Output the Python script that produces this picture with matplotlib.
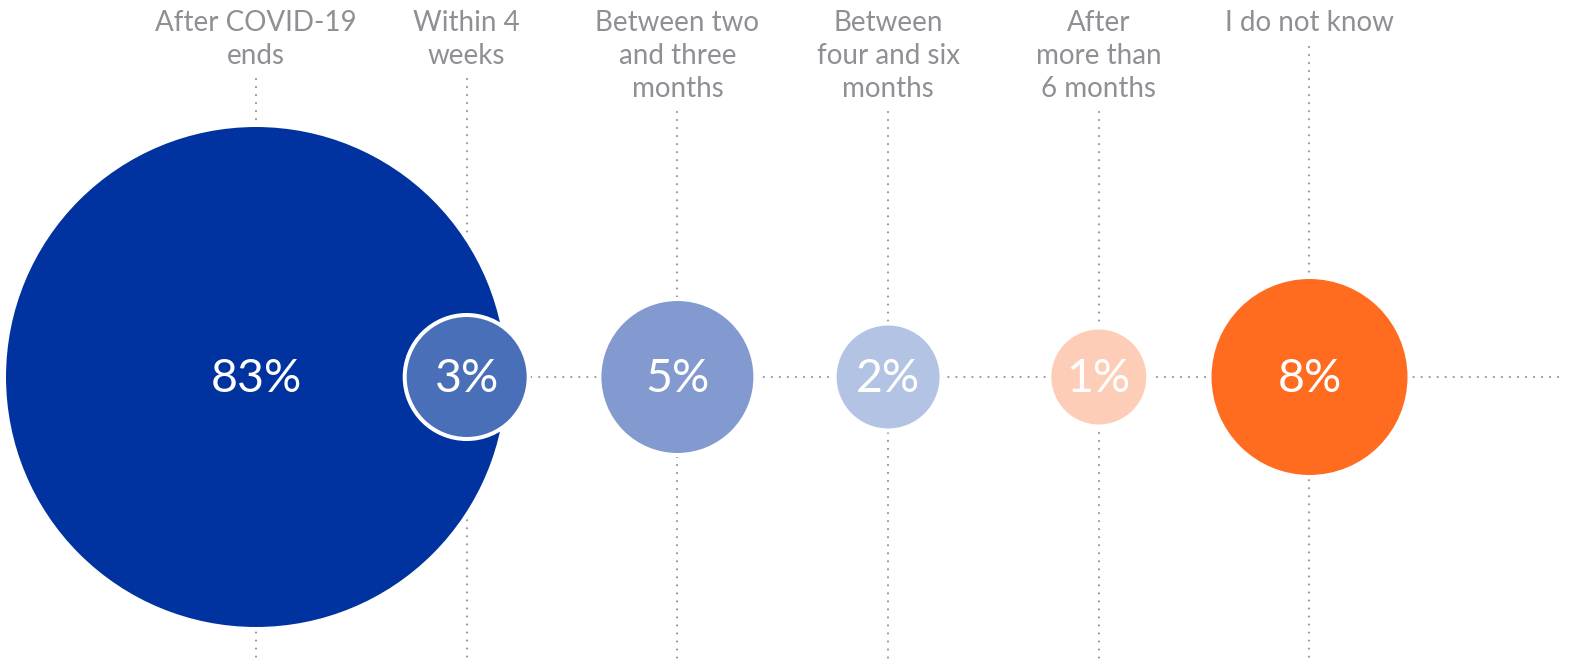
import numpy as np
import matplotlib.pyplot as plt
from matplotlib.patches import Circle

# data
categories = ['After COVID-19\nends', 'Within 4\nweeks', 'Between two\nand three\nmonths',
              'Between\nfour and six\nmonths', 'After\nmore than\n6 months', 'I do not know']
values = [83, 3, 5, 2, 1, 8]

# drawing settings (pixel units)
colors = ['#00339F', '#4A6FB9', '#829ACF', '#B3C3E4', '#FECDB8', '#FF6B1F']
radius = [252, 62, 78, 53.5, 49.5, 100]
x0, step, yc = 256, 210.7, 377
W, H = 1571, 662
grey = '#9A9A9A'

fig = plt.figure(figsize=(W / 100, H / 100), dpi=100)
ax = fig.add_axes([0, 0, 1, 1])
ax.set_xlim(0, W)
ax.set_ylim(H, 0)
ax.set_aspect('equal')
ax.axis('off')

xs = [x0 + i * step for i in range(len(values))]
dots = dict(color=grey, lw=1.6, linestyle=(0, (0.01, 3.6)), dash_capstyle='round', zorder=1)

# horizontal dotted line, starting from the second bubble
ax.plot([xs[1], 1560], [yc, yc], **dots)

for i, (lab, v) in enumerate(zip(categories, values)):
    x = xs[i]
    nlines = lab.count('\n') + 1
    ytop = 10
    ax.text(x, ytop, lab, ha='center', va='top', fontsize=20, color='#8E9094',
            family='Lato', linespacing=1.34)
    ax.plot([x, x], [ytop + nlines * 32.5 + 4, H], **dots)
    ax.add_patch(Circle((x, yc), radius[i], facecolor=colors[i], edgecolor='white',
                        lw=2.9, zorder=2 + (i == 1)))
    ax.text(x, yc + 2, f'{v}%', ha='center', va='center', fontsize=33.5, color='white',
            family='Lato', zorder=5)

fig.savefig('out.png', dpi=100)
